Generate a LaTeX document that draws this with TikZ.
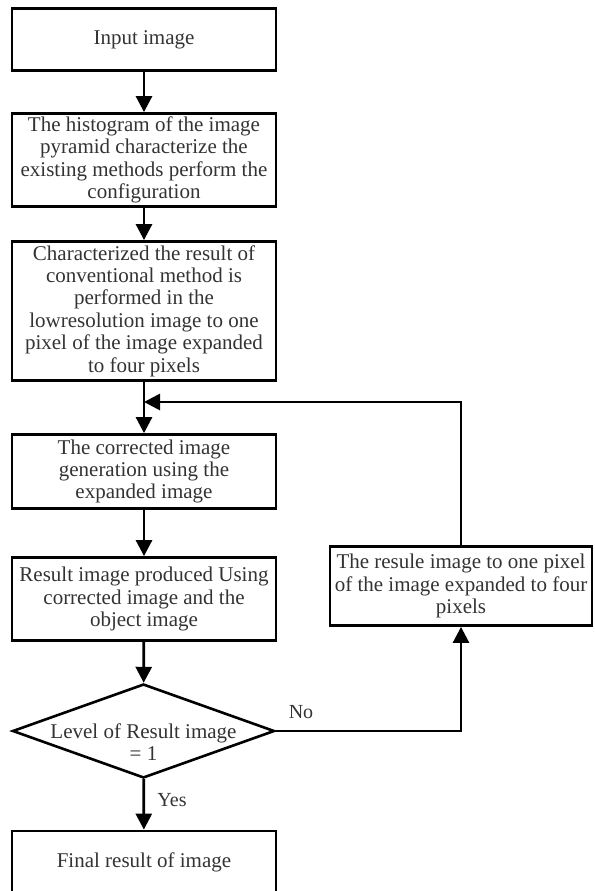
\documentclass[tikz,border=0pt]{standalone}
\usepackage{fontspec}
\setmainfont{Liberation Serif}
\usetikzlibrary{positioning, arrows.meta, shapes.geometric}

\begin{document}
\begin{tikzpicture}[
    x=1pt, y=-1pt,
    box/.style={rectangle, draw=black, line width=2.8pt, minimum width=264pt, inner sep=2pt,
        align=center, text=black!80, font=\fontsize{21}{22.4}\selectfont},
    decision/.style={diamond, draw=black, line width=2.6pt, minimum width=262pt, minimum height=94pt,
        inner sep=0pt, text=black!80, font=\fontsize{21}{22.2}\selectfont},
    tag/.style={text=black!80, font=\fontsize{20}{22}\selectfont},
    arrow/.style={-{Triangle[length=16pt, width=16pt]}, line width=2.8pt}
]
    \useasboundingbox (0,0) rectangle (594,891);

    % Main column
    \node[box, minimum height=62pt] (input) at (144, 39.5) {Input image};
    \node[box, minimum height=93pt] (hist) at (144, 160) {The histogram of the image\\pyramid characterize the\\existing methods perform the\\configuration};
    \node[box, minimum height=139pt] (conv) at (144, 311) {Characterized the result of\\conventional method is\\performed in the\\lowresolution image to one\\pixel of the image expanded\\to four pixels};
    \node[box, minimum height=74pt] (corr) at (144, 471.5) {The corrected image\\generation using the\\expanded image};
    \node[box, minimum height=83pt] (res) at (144, 599) {Result image produced Using\\corrected image and the\\object image};
    \node[decision] (dec) at (143.5, 731) {\raisebox{-19pt}[0pt][0pt]{\makebox[0pt]{\begin{tabular}{@{}c@{}}Level of Result image\\= 1\end{tabular}}}};
    \node[box, minimum height=62pt] (final) at (144, 862) {Final result of image};

    % Loop box
    \node[box, minimum height=79pt, minimum width=262pt] (loop) at (461, 586) {The resule image to one pixel\\of the image expanded to four\\pixels};

    % Join point of the loop
    \coordinate (join) at (144, 402);

    % Connections
    \draw[arrow] (input) -- (hist);
    \draw[arrow] (hist) -- (conv);
    \draw[arrow] (conv) -- (corr);
    \draw[arrow] (corr) -- (res);
    \draw[arrow] (res) -- (dec);
    \draw[arrow] (dec) -- (final);
    \draw[arrow] (dec.east) -| (loop.south);
    \draw[arrow] (loop.north) |- (join);

    % Branch labels
    \node[tag] (no) at (301, 712) {No};
    \node[tag] (yes) at (172, 800) {Yes};

\end{tikzpicture}
\end{document}
